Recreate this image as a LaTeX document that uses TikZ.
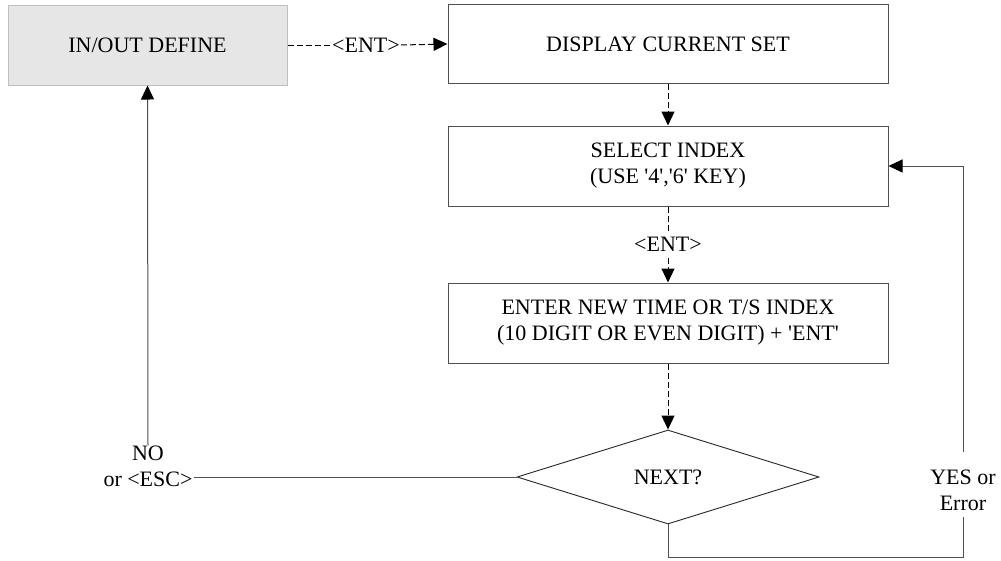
\documentclass[tikz,border=0pt]{standalone}
\usepackage{fontspec}
\setmainfont{Liberation Serif}
\usetikzlibrary{arrows.meta,shapes.geometric}
\definecolor{boxgray}{HTML}{E6E6E6}
\definecolor{linegray}{HTML}{505050}
\begin{document}
\begin{tikzpicture}[x=1pt,y=-1pt,
  every node/.style={font=\fontsize{22}{26}\selectfont},
  box/.style={draw=linegray, line width=1pt, rectangle, minimum width=440pt, minimum height=79pt, inner sep=0pt, align=center},
  greybox/.style={draw=black!25, fill=boxgray, line width=1pt, rectangle, minimum width=279pt, minimum height=80pt, inner sep=0pt},
  dia/.style={draw=black!85, line width=0.9pt, diamond, minimum width=302pt, minimum height=94pt, inner sep=0pt},
  lbl/.style={inner sep=0pt, align=center},
  conn/.style={draw=linegray, line width=1pt},
  arr/.style={conn, -{Triangle[length=14pt,width=13pt,color=black,fill=black]}},
  dsh/.style={draw=black, dash pattern=on 6pt off 3pt}
]
\useasboundingbox (0,0) rectangle (1001,560);

\node[greybox] (inout) at (147.5,45) {IN/OUT DEFINE};
\node[box] (display) at (668,44) {DISPLAY CURRENT SET};
\node[box, minimum height=80pt] (select) at (668,166) {SELECT INDEX\\(USE \textquotesingle4\textquotesingle,\textquotesingle6\textquotesingle{} KEY)};
\node[box, minimum height=80pt] (enter) at (668,323) {ENTER NEW TIME OR T/S INDEX\\(10 DIGIT OR EVEN DIGIT) + \textquotesingle ENT\textquotesingle};
\node[dia] (next) at (668,477) {NEXT?};

% labels
\node[lbl, inner xsep=1pt] (ent1) at (366,45) {<ENT>};
\node[lbl, inner ysep=6pt] (ent2) at (668,244.5) {<ENT>};
\node[lbl, inner xsep=1pt] (nolab) at (148,466) {NO\\or <ESC>};
\node[lbl, inner ysep=12pt] (yes) at (963,490.5) {YES or\\Error};
\coordinate (corner) at (963,557);

% connectors
\draw[conn, dsh] (inout.east) -- (ent1.west);
\draw[arr, dsh] (ent1.east) -- (display.west);
\draw[arr, dsh] (display.south) -- (select.north);
\draw[conn, dsh] (select.south) -- (ent2.north);
\draw[arr, dsh] (ent2.south) -- (enter.north);
\draw[arr, dsh] (enter.south) -- (next.north);

\draw[conn] (next.west) -- (next.west -| nolab.east);
\draw[arr] (nolab.north) -- (inout.south);

\draw[conn] (next.south) |- (corner) -- ([yshift=6pt]yes.south);
\draw[arr] ([yshift=6pt]yes.north) |- (select.east);
\end{tikzpicture}
\end{document}
